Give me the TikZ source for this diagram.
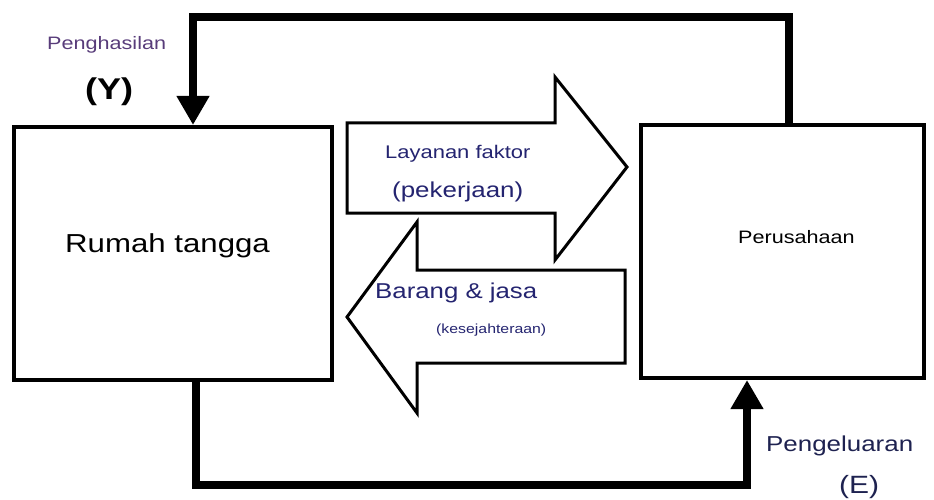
\documentclass[tikz,border=0pt]{standalone}
\usepackage{fontspec}
\setmainfont[FakeStretch=1.2]{Liberation Sans}
\usetikzlibrary{arrows.meta}
\definecolor{ungu}{RGB}{88,60,122}
\definecolor{biru}{RGB}{36,36,112}
\definecolor{birutua}{RGB}{30,34,80}
\def\fs#1{\fontsize{#1}{#1}\selectfont}

\begin{document}
\begin{tikzpicture}[x=1pt,y=-1pt,
	box/.style={draw,line width=4pt,inner sep=0pt},
	flow/.style={line width=8pt,-{Triangle[width=31pt,length=29pt]}},
	bigarrow/.style={draw,line width=3pt,fill=white,line join=miter},
	txt/.style={anchor=base west,inner sep=0pt}]
		\useasboundingbox (0,0) rectangle (934,500);
		%%%%% START %%%%%
		\node[box,minimum width=318pt,minimum height=253pt] (rumah) at (173,253.5) {};
		\node[box,minimum width=283pt,minimum height=253pt] (perusahaan) at (782.5,251.5) {};
		
		\node[txt,font=\fs{26}] (rumahtxt) at (65,252) {Rumah tangga};
		\node[txt,font=\fs{18}] (perusahaantxt) at (738,243) {Perusahaan};
		
		% aliran atas
		\coordinate (atasKanan) at (789,17);
		\coordinate (atasKiri) at (193,17);
		\draw[flow] (atasKanan |- perusahaan.north) -- (atasKanan) -- (atasKiri) -- (atasKiri |- rumah.north);
		\node[txt,font=\fs{18},text=ungu] (penghasilan) at (47,50) {Penghasilan};
		\node[txt,font=\bfseries\fs{30}] (y) at (85,100) {(Y)};
		
		% aliran bawah
		\coordinate (bawahKiri) at (196,485);
		\coordinate (bawahKanan) at (747,485);
		\draw[flow] (bawahKiri |- rumah.south) -- (bawahKiri) -- (bawahKanan) -- (bawahKanan |- perusahaan.south);
		\node[txt,font=\fs{21.6},text=birutua] (pengeluaran) at (766,451) {Pengeluaran};
		\node[txt,font=\fs{25},text=birutua] (e) at (839,493) {(E)};
		
		% panah besar
		\draw[bigarrow] (347,123) -- (555,123) -- (555,77) -- (627,167) -- (555,260) -- (555,213) -- (347,213) -- cycle;
		\draw[bigarrow] (625,270) -- (417,270) -- (417,222) -- (347,317) -- (417,413) -- (417,363) -- (625,363) -- cycle;
		
		\node[txt,font=\fs{18.3},text=biru] (layanan) at (385,158) {Layanan faktor};
		\node[txt,font=\fs{21.6},text=biru] (pekerjaan) at (392,197) {(pekerjaan)};
		\node[txt,font=\fs{21.5},text=biru] (barang) at (375,298) {Barang \& jasa};
		\node[txt,font=\fs{13.2},text=biru] (kesejahteraan) at (436,333) {(kesejahteraan)};
		%%%%% END %%%%%
\end{tikzpicture}
\end{document}
